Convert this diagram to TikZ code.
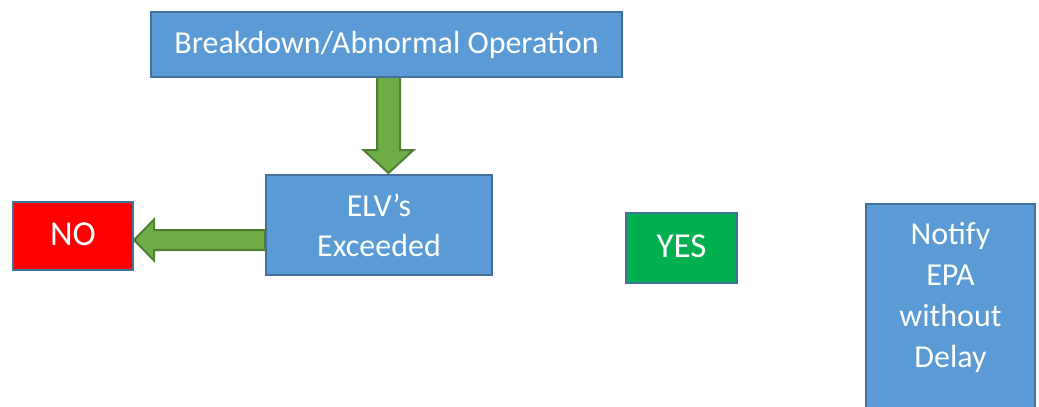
\documentclass[tikz,border=0pt]{standalone}
\usepackage{fontspec}
\setmainfont{Carlito}
\usetikzlibrary{calc}
\definecolor{boxblue}{HTML}{5B9BD5}
\definecolor{edgeblue}{HTML}{41719C}
\definecolor{arrgreen}{HTML}{70AD47}
\definecolor{arredge}{HTML}{507E32}
\definecolor{yesgreen}{HTML}{00B050}
\definecolor{noRed}{HTML}{FF0000}
\begin{document}
\begin{tikzpicture}[x=1pt,y=-1pt,
  box/.style={draw=edgeblue, line width=2pt, fill=boxblue, text=white,
    font=\fontsize{32}{40}\selectfont, align=center, inner sep=0pt},
  oneline/.style={text height=24pt, text depth=6pt},
  bigtext/.style={font=\fontsize{35}{42}\selectfont},
  fatarrow/.style={draw=arredge, line width=2pt, fill=arrgreen, line join=miter}]
\useasboundingbox (0,0) rectangle (1039,407);
\clip (0,0) rectangle (1039,407);
\fill[white] (0,0) rectangle (1039,407);
% connectors drawn first
\coordinate (d1) at (388.5,77);
\coordinate (d2) at (388.5,173);
\draw[fatarrow] ($(d1)+(-11.5,0)$) -- ($(d2)+(-11.5,-23)$) -- ($(d2)+(-25,-23)$) -- (d2)
  -- ($(d2)+(25,-23)$) -- ($(d2)+(11.5,-23)$) -- ($(d1)+(11.5,0)$) -- cycle;
\coordinate (l1) at (265,240);
\coordinate (l2) at (134,240);
\draw[fatarrow] ($(l1)+(0,-10)$) -- ($(l2)+(20,-10)$) -- ($(l2)+(20,-20.5)$) -- (l2)
  -- ($(l2)+(20,20.5)$) -- ($(l2)+(20,10)$) -- ($(l1)+(0,10)$) -- cycle;
% boxes
\node[box, oneline, minimum width=471pt, minimum height=65pt] (top) at (386.5,44.5) {Breakdown/Abnormal Operation};
\node[box, minimum width=226pt, minimum height=100pt] (elv) at (379,225) {ELV’s\\Exceeded};
\node[box, bigtext, oneline, fill=noRed, minimum width=120pt, minimum height=68pt] (no) at (73,236) {NO};
\node[box, bigtext, oneline, fill=yesgreen, minimum width=111pt, minimum height=70pt] (yes) at (681.5,248) {YES};
\node[box, minimum width=169pt, minimum height=230pt, anchor=north] (notify) at (950.5,203) {};
\node[box, draw=none, fill=none, font=\fontsize{32}{41}\selectfont] (notifytext) at (950.5,298) {Notify\\EPA\\without\\Delay};
\end{tikzpicture}
\end{document}
